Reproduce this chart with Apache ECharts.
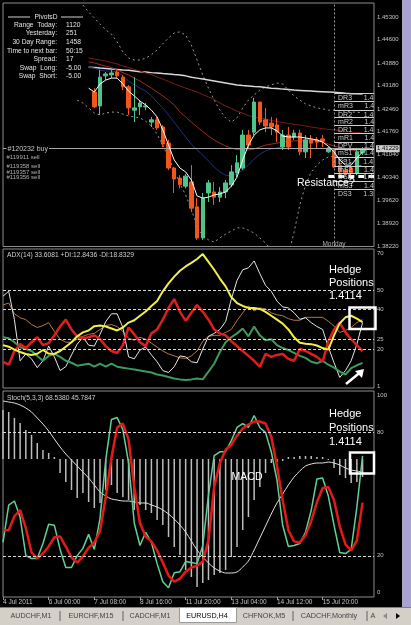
<!DOCTYPE html>
<html><head><meta charset="utf-8">
<script src="https://cdn.jsdelivr.net/npm/echarts/dist/echarts.min.js"></script>
<style>html,body{margin:0;padding:0;background:#000;width:411px;height:625px;overflow:hidden}#c{width:411px;height:625px}</style>
</head><body><div id="c"></div><script>
// ---------- axes / ticks ----------
const N = 66;
const timeTickLabels = ['4 Jul 2011','6 Jul 00:00','7 Jul 08:00','8 Jul 16:00','11 Jul 20:00','13 Jul 04:00','14 Jul 12:00','15 Jul 20:00'];
const timeTickEvery = 8;
const priceTickLabels = ['1.38220','1.38920','1.39620','1.40340','1.41040','1.41760','1.42460','1.43180','1.43880','1.44600','1.45300'];
const priceBase = 1.3822, priceStep = 0.00708;
const adxTickLabels = [70, 50, 40, 25, 20, 1];
const adxLevels = [50, 40, 25, 20];
const stochTickLabels = [100, 80, 20, 0];
const stochLevels = [80, 20];

// ---------- price panel (EURUSD H4) ----------
const candleStart = 16; // [open, close, low, high]
const candleOHLC = [
[1.4298,1.4252,1.4249,1.4310],[1.4255,1.4344,1.4227,1.4366],[1.4348,1.4354,1.4335,1.4360],[1.4351,1.4357,1.4341,1.4366],
[1.4360,1.4348,1.4341,1.4366],[1.4344,1.4314,1.4304,1.4351],[1.4314,1.4249,1.4227,1.4320],[1.4242,1.4249,1.4205,1.4344],
[1.4252,1.4264,1.4227,1.4273],[1.4252,1.4255,1.4242,1.4264],[1.4205,1.4212,1.4190,1.4221],[1.4212,1.4187,1.4181,1.4221],
[1.4190,1.4137,1.4128,1.4196],[1.4140,1.4063,1.4057,1.4150],[1.4063,1.4029,1.3986,1.4066],[1.4032,1.4011,1.4000,1.4041],
[1.4007,1.4038,1.4000,1.4045],[1.4020,1.3939,1.3927,1.4072],[1.3943,1.3847,1.3841,1.3970],[1.3847,1.3970,1.3841,1.3986],
[1.3986,1.4017,1.3958,1.4026],[1.3989,1.3973,1.3949,1.4020],[1.3973,1.3989,1.3958,1.4004],[1.3989,1.4017,1.3970,1.4026],
[1.4011,1.4051,1.4004,1.4072],[1.4048,1.4079,1.4035,1.4103],[1.4063,1.4165,1.4057,1.4181],[1.4165,1.4134,1.4125,1.4181],
[1.4174,1.4267,1.4165,1.4280],[1.4267,1.4205,1.4196,1.4267],[1.4212,1.4193,1.4174,1.4249],[1.4202,1.4190,1.4165,1.4221],
[1.4196,1.4174,1.4143,1.4218],[1.4128,1.4165,1.4119,1.4181],[1.4165,1.4128,1.4119,1.4190],[1.4159,1.4171,1.4150,1.4181],
[1.4171,1.4113,1.4103,1.4181],[1.4113,1.4150,1.4094,1.4165],[1.4150,1.4140,1.4094,1.4165],[1.4150,1.4143,1.4125,1.4159],
[1.4153,1.4146,1.4128,1.4165],[1.4113,1.4125,1.4110,1.4128],[1.4119,1.4066,1.4063,1.4125],[1.4072,1.4051,1.4041,1.4094],
[1.4057,1.4048,1.4038,1.4063],[1.4063,1.4048,1.4041,1.4066],[1.4048,1.4113,1.4041,1.4125],[1.4110,1.4123,1.4103,1.4128]
];
const maStart = 15;
const fastMA = [1.4310,1.4298,1.4323,1.4335,1.4341,1.4341,1.4323,1.4301,1.4286,1.4270,1.4258,1.4242,1.4221,1.4181,1.4134,1.4088,1.4063,1.4051,1.4026,1.3977,1.3970,1.3973,1.3980,1.3983,1.3989,1.4007,1.4035,1.4088,1.4134,1.4165,1.4181,1.4187,1.4187,1.4178,1.4162,1.4159,1.4159,1.4159,1.4156,1.4153,1.4150,1.4143,1.4131,1.4113,1.4088,1.4072,1.4072,1.4094,1.4113];
const navyMA = [1.4375,1.4372,1.4366,1.4363,1.4363,1.4360,1.4348,1.4332,1.4320,1.4310,1.4301,1.4286,1.4267,1.4249,1.4227,1.4205,1.4181,1.4159,1.4137,1.4119,1.4103,1.4085,1.4066,1.4051,1.4041,1.4038,1.4045,1.4057,1.4072,1.4091,1.4106,1.4116,1.4122,1.4125,1.4128,1.4131];
const slowMA1 = [1.4403,1.4400,1.4397,1.4394,1.4389,1.4385,1.4378,1.4374,1.4368,1.4363,1.4357,1.4352,1.4344,1.4338,1.4331,1.4323,1.4317,1.4310,1.4304,1.4298,1.4290,1.4283,1.4275,1.4264,1.4255,1.4247,1.4239,1.4233,1.4225,1.4221,1.4218,1.4215,1.4210,1.4207,1.4204,1.4201,1.4198,1.4196,1.4193,1.4190,1.4187,1.4185,1.4182,1.4181,1.4179,1.4176,1.4174,1.4173,1.4171];
const slowMA2 = [1.4391,1.4388,1.4383,1.4378,1.4374,1.4366,1.4358,1.4351,1.4341,1.4332,1.4321,1.4310,1.4298,1.4286,1.4273,1.4258,1.4236,1.4221,1.4205,1.4190,1.4176,1.4162,1.4150,1.4140,1.4131,1.4125,1.4120,1.4119,1.4119,1.4122,1.4128,1.4134,1.4137,1.4140,1.4143,1.4145,1.4147,1.4148,1.4150,1.4150,1.4147,1.4143,1.4137,1.4131,1.4127,1.4122,1.4119,1.4116,1.4113];
const longMA = [1.4375,1.4374,1.4372,1.4371,1.4369,1.4368,1.4366,1.4365,1.4363,1.4361,1.4360,1.4358,1.4357,1.4355,1.4354,1.4352,1.4351,1.4348,1.4344,1.4341,1.4338,1.4335,1.4332,1.4329,1.4326,1.4323,1.4320,1.4318,1.4317,1.4315,1.4314,1.4312,1.4310,1.4309,1.4307,1.4306,1.4304,1.4303,1.4302,1.4301,1.4300,1.4299,1.4298,1.4297,1.4296,1.4294,1.4293,1.4293,1.4292];
const bandUpperStart = 14;
const bandUpper = [1.4567,1.4545,1.4527,1.4508,1.4490,1.4477,1.4453,1.4422,1.4403,1.4397,1.4397,1.4403,1.4413,1.4428,1.4447,1.4465,1.4481,1.4484,1.4474,1.4443,1.4397,1.4351,1.4310,1.4273,1.4242,1.4218,1.4205,1.4218,1.4249,1.4273,1.4289,1.4304,1.4314,1.4320,1.4326,1.4323,1.4304,1.4286,1.4273,1.4261,1.4255,1.4249,1.4246,1.4242,1.4242,1.4239,1.4239,1.4236,1.4236,1.4233];
const bandLowerStart = 13;
const bandLower = [1.4273,1.4264,1.4249,1.4233,1.4227,1.4233,1.4236,1.4236,1.4230,1.4224,1.4221,1.4218,1.4208,1.4193,1.4168,1.4134,1.4094,1.4057,1.4014,1.3980,1.3934,1.3884,1.3853,1.3841,1.3834,1.3847,1.3859,1.3868,1.3878,1.3878,1.3871,1.3862,1.3847,1.3831,1.3810,1.3785,1.3773,1.3794,1.3865,1.3949,1.4011,1.4051,1.4072,1.4088,1.4097,1.4100,1.4097,1.4088,1.4079,1.4072,1.4069];
const pivotStart = 58;
const pivotNames = ['DR3','mR3','DR2','mR2','DR1','mR1','DPV','mS1','DS1','mS2','DS2','mS3','DS3'];
const pivotLevels = [1.4293,1.4270,1.4242,1.4219,1.4194,1.4171,1.4144,1.4122,1.4095,1.4070,1.4048,1.4021,1.3997];
const bidPrice = 1.41229;
const buyOrder = {label:'#120232 buy', price:1.41229};
const sellOrders = [{label:'#119911 sell', price:1.4097},{label:'#119358 sell', price:1.4069},{label:'#119357 sell', price:1.4051},{label:'#119356 sell', price:1.4035}];
const resistanceLevel = 1.4039;
const mondayIndex = 58;

// ---------- ADX panel ----------
const adxMain = [21.9,21.1,19.6,18.4,17.4,16.9,17.5,19.4,17.6,17.4,18.9,21.1,23.4,26.4,28.4,29.4,31.6,31.9,31.4,30.4,29.4,30.9,33.4,34.6,36.9,39.1,41.9,44.4,49.4,53.4,56.9,59.9,62.1,63.9,65.9,68.4,64.4,60.4,55.9,51.9,46.4,43.4,41.9,40.9,40.9,40.4,38.9,36.9,34.9,32.9,29.9,25.9,23.1,22.6,22.4,21.7,20.4,19.6,26.9,33.1,36.1,36.9,35.4,33.6];
const minusDI = [13.4,11.9,18.9,22.4,20.4,23.4,25.9,21.9,22.9,26.9,31.4,34.9,29.9,26.4,25.4,25.9,26.9,24.9,21.4,18.9,17.9,21.9,30.9,27.4,23.4,21.4,27.9,29.9,34.9,40.9,45.4,38.9,34.4,38.4,42.4,38.9,34.9,29.9,27.9,26.9,23.9,21.4,18.9,16.4,13.9,10.9,17.4,15.9,16.9,17.4,14.9,13.9,19.9,18.9,17.4,15.9,13.4,23.9,29.9,33.4,28.4,24.9,21.9,18.8];
const plusDI = [25.9,25.4,23.4,20.9,19.9,18.9,16.4,13.9,16.4,17.4,15.9,13.9,12.9,11.4,11.9,12.4,10.9,12.4,10.9,12.4,10.9,10.4,9.9,9.4,8.9,8.4,7.9,6.9,6.4,5.6,4.9,4.4,4.1,4.4,4.9,4.4,8.4,12.4,18.4,23.4,25.9,27.9,30.4,26.4,31.4,26.9,24.4,24.9,21.9,20.4,19.4,17.9,16.4,15.4,13.4,12.6,13.9,11.9,10.4,8.4,6.9,10.1,11.6,12.8];
const adxWhite = [46.9,49.4,34.9,13.9,17.4,14.9,10.4,13.9,21.4,15.9,8.9,10.9,16.9,22.4,25.9,21.9,21.4,27.4,33.9,37.9,37.9,30.9,15.9,14.9,19.4,20.9,16.9,13.4,8.9,7.9,10.9,16.4,15.9,13.4,12.9,19.9,26.4,27.9,29.9,33.9,45.4,54.9,60.4,61.4,64.9,58.4,52.4,49.4,44.4,41.4,40.9,38.4,35.1,35.9,33.4,31.4,29.9,20.9,12.9,5.4,8.9,13.9,22.4,33.4];
const adxBrown = [42.4,43.4,37.9,35.9,34.9,32.4,30.9,31.9,33.4,28.9,24.9,23.4,23.4,24.9,26.4,27.4,27.9,29.9,31.9,32.4,31.4,28.9,25.4,24.4,25.9,24.9,22.9,20.9,18.9,17.4,16.4,15.4,15.1,16.4,18.9,23.9,26.4,26.9,26.9,28.4,29.9,34.4,38.4,41.9,39.4,40.9,40.4,38.4,37.4,36.9,35.4,34.6,34.6,36.1,36.1,36.1,36.1,34.1,31.6,28.4,29.4,30.9,33.4,34.9];

// ---------- Stoch / MACD panel ----------
const stochMain = [26.5,44.6,46.6,38.7,20.1,18.7,18.7,26.0,35.3,34.8,23.1,14.3,14.3,20.1,23.6,30.4,23.1,38.2,66.6,86.2,87.1,81.3,65.1,35.8,25.0,31.4,26.5,16.2,7.4,4.5,11.8,12.3,17.2,16.7,16.2,25.0,49.5,68.6,70.5,70.5,75.9,82.3,84.2,82.3,88.1,82.3,79.8,70.5,56.8,34.8,24.5,25.0,26.0,31.4,42.1,57.3,57.8,49.0,34.8,21.6,21.1,23.1,43.6,68.5];
const stochSignal = [32.4,32.4,39.2,42.2,33.4,21.6,18.7,21.1,24.5,29.0,29.4,24.5,19.2,16.7,19.7,24.0,26.5,31.9,48.5,67.6,82.3,84.2,76.4,53.4,35.8,29.4,27.0,22.6,16.7,10.4,7.4,8.9,12.3,14.3,15.2,17.2,27.5,53.4,65.1,71.5,73.9,78.3,81.8,83.7,85.2,85.2,84.2,77.8,63.7,47.0,32.4,27.0,26.5,29.9,36.8,46.0,52.9,53.4,47.0,34.3,25.5,22.6,27.5,45.8];
const macdHist = [0.0049,0.0047,0.0041,0.0036,0.0029,0.0024,0.0016,0.0009,0.0006,0.0002,-0.0014,-0.0023,-0.0031,-0.0039,-0.0034,-0.0043,-0.0049,-0.0044,-0.0031,-0.0026,-0.0034,-0.0038,-0.0041,-0.0051,-0.0046,-0.0051,-0.0054,-0.0061,-0.0066,-0.0078,-0.0088,-0.0096,-0.0111,-0.0118,-0.0128,-0.0124,-0.0121,-0.0116,-0.0114,-0.0111,-0.0098,-0.0088,-0.0071,-0.0058,-0.0041,-0.0028,-0.0014,-0.0004,-0.0003,-0.0002,0.0002,0.0002,0.0003,0.0003,0.0003,0.0002,0.0002,-0.0001,-0.0009,-0.0016,-0.0019,-0.0024,-0.0023,-0.0018];
const macdSignal = [0.0058,0.0057,0.0056,0.0054,0.0051,0.0047,0.0041,0.0035,0.0028,0.0020,0.0012,0.0005,-0.0001,-0.0007,-0.0013,-0.0019,-0.0026,-0.0033,-0.0037,-0.0040,-0.0041,-0.0042,-0.0042,-0.0043,-0.0044,-0.0044,-0.0046,-0.0048,-0.0051,-0.0055,-0.0060,-0.0066,-0.0073,-0.0082,-0.0091,-0.0098,-0.0104,-0.0109,-0.0112,-0.0114,-0.0114,-0.0113,-0.0108,-0.0102,-0.0091,-0.0079,-0.0067,-0.0055,-0.0044,-0.0035,-0.0026,-0.0018,-0.0012,-0.0007,-0.0005,-0.0004,-0.0004,-0.0003,-0.0004,-0.0006,-0.0009,-0.0011,-0.0012,-0.0013];

// ---------- texts ----------
const infoTitle = 'PivotsD';
const infoLabels = ['Range  Today:','Yesterday:','30 Day Range:','Time to next bar:','Spread:','Swap  Long:','Swap  Short:'];
const infoValues = ['1120','251','1458','50:15','17','-5.00','-5.00'];
const adxTitle = 'ADX(14) 33.6081 +DI:12.8436 -DI:18.8329';
const stochTitle = 'Stoch(5,3,3) 68.5380 45.7847';
const hedgeText = 'Hedge\nPositions\n1.4114';
const tabNames = ['AUDCHF,M1','EURCHF,M15','CADCHF,M1','EURUSD,H4','CHFNOK,M5','CADCHF,Monthly','A'];
const activeTab = 3;

// ---------- helpers ----------
const cats = Array.from({length:N}, (_, i) => String(i));
const pad = (start, arr) => { const o = new Array(N).fill('-'); arr.forEach((v, k) => { o[start + k] = v; }); return o; };
const U = p => (p - priceBase) / priceStep;
const padP = (start, arr) => pad(start, arr.map(U));
const FONT = 'Liberation Sans';
const GREY = '#c4c4c4';

const xAx = (gi, showLab) => ({
  type:'category', gridIndex:gi, data:cats, boundaryGap:false,
  axisLine:{show:false}, splitLine:{show:false},
  axisTick: showLab ? {show:true, length:3, lineStyle:{color:'#9a9a9a'}, interval:(i)=> i % timeTickEvery === 0 && i/timeTickEvery < timeTickLabels.length} : {show:false},
  axisLabel: showLab ? {show:true, color:GREY, fontSize:6.5, fontFamily:FONT, margin:2, align:'left',
     interval:(i)=> i % timeTickEvery === 0 && i/timeTickEvery < timeTickLabels.length,
     formatter:(v, i)=> timeTickLabels[i/timeTickEvery] || ''} : {show:false}
});

const lineS = (name, xi, yi, data, color, width, extra) => Object.assign({
  name, type:'line', xAxisIndex:xi, yAxisIndex:yi, data, symbol:'none', silent:true,
  lineStyle:{color, width}, connectNulls:false
}, extra || {});

const pivotLines = pivotNames.map((n, k) => [
  {coord:[pivotStart - 0.1, U(pivotLevels[k])], label:{show:true, position:'insideStartBottom', distance:1,
     formatter: n + '      ' + pivotLevels[k].toFixed(4).slice(0,3), color:'#c8c8c8', fontSize:7, fontFamily:FONT, padding:[0,0,0,3]}},
  {coord:[N - 1, U(pivotLevels[k])]}
]);

const priceTickUnits = priceTickLabels.map(s => U(Number(s)));

const option = {
  backgroundColor:'#000',
  animation:false,
  grid:[
    {left:3, top:3, width:371, height:243.5, show:true, borderColor:'#8c8c8c', borderWidth:1},
    {left:3, top:249, width:371, height:139, show:true, borderColor:'#8c8c8c', borderWidth:1},
    {left:3, top:391, width:371, height:206, show:true, borderColor:'#8c8c8c', borderWidth:1}
  ],
  xAxis:[xAx(0,false), xAx(1,false), xAx(2,true)],
  yAxis:[
    {type:'value', gridIndex:0, position:'right', min:-0.022, max:10.611, splitLine:{show:false}, axisLine:{show:false}, axisTick:{show:false},
     axisLabel:{color:GREY, fontSize:6, fontFamily:FONT, margin:3, customValues: priceTickUnits,
       formatter:(v)=> { const k = Math.round(v); return Math.abs(v - k) < 0.05 ? (priceTickLabels[k] || '') : ''; }}},
    {type:'value', gridIndex:1, position:'right', min:0, max:71, interval:1, splitLine:{show:false}, axisLine:{show:false}, axisTick:{show:false},
     axisLabel:{color:GREY, fontSize:6, fontFamily:FONT, margin:3,
       rich:{t:{fontSize:6, fontFamily:FONT, color:GREY, padding:[5,0,0,0]}},
       formatter:(v)=> v === adxTickLabels[0] ? '{t|' + v + '}' : (adxTickLabels.indexOf(v) >= 0 ? String(v) : '')}},
    {type:'value', gridIndex:2, position:'right', min:0, max:100, interval:10, splitLine:{show:false}, axisLine:{show:false}, axisTick:{show:false},
     axisLabel:{color:GREY, fontSize:6, fontFamily:FONT, margin:3,
       rich:{t:{fontSize:6, fontFamily:FONT, color:GREY, padding:[9,0,0,0]}, b:{fontSize:6, fontFamily:FONT, color:GREY, padding:[0,0,10,0]}},
       formatter:(v)=> v === 100 ? '{t|100}' : v === 0 ? '{b|0}' : (stochTickLabels.indexOf(v) >= 0 ? String(v) : '')}},
    {type:'value', gridIndex:2, min:-0.0138, max:0.0068, show:false, splitLine:{show:false}}
  ],
  series:[
    lineS('bbUp',0,0,padP(bandUpperStart,bandUpper),'#9a9a9a',1,{lineStyle:{color:'#9a9a9a',width:1,type:[2,3]}}),
    lineS('bbLo',0,0,padP(bandLowerStart,bandLower),'#9a9a9a',1,{lineStyle:{color:'#9a9a9a',width:1,type:[2,3]}}),
    lineS('longMA',0,0,padP(maStart,longMA),'#d8d8d8',1.5,{z:3, markLine:{silent:true, symbol:['none','none'], animation:false,
      data:[
        ...pivotLines.map(p => { p[0].lineStyle = {color:'#d0d0d0', width:1, type:'solid'}; return p; }),
        {xAxis:mondayIndex, lineStyle:{color:'#a0a0a0', width:1, type:[2,2]}, label:{show:false}},
        [{coord:[mondayIndex - 1, U(resistanceLevel)], lineStyle:{color:'#ffffff', width:3, type:[6,4]}, label:{show:false}}, {coord:[N - 1, U(resistanceLevel)]}],
        {yAxis:U(buyOrder.price), lineStyle:{color:'#a8a8a8', width:1, type:'solid'},
          label:{show:true, position:'end', distance:2, formatter: bidPrice.toFixed(5), color:'#000', backgroundColor:'#cfcfcf', fontSize:6, fontFamily:FONT, padding:[1,1,0,1]}}
      ]}}),
    lineS('slowMA1',0,0,padP(maStart,slowMA1),'#7a1c1c',1),
    lineS('slowMA2',0,0,padP(maStart,slowMA2),'#a02a2a',1),
    lineS('navyMA',0,0,padP(maStart,navyMA),'#22307e',1),
    {name:'EURUSD', type:'candlestick', xAxisIndex:0, yAxisIndex:0, barWidth:4, z:4, silent:true,
     data: pad(candleStart, candleOHLC.map(c => c.map(U))),
     itemStyle:{color:'#4fc48b', color0:'#f2561d', borderColor:'#4fc48b', borderColor0:'#f2561d', borderWidth:1},
     markPoint:{silent:true, symbol:'rect', symbolSize:[1,1], itemStyle:{color:'rgba(0,0,0,0)'}, animation:false,
       data:[
        {coord:[0, U(buyOrder.price)], label:{show:true, position:'right', distance:3, formatter:buyOrder.label, color:'#c8c8c8', backgroundColor:'#000', fontSize:7, fontFamily:FONT, padding:[0,1]}},
        ...sellOrders.map(o => ({coord:[0, U(o.price)], label:{show:true, position:'right', distance:3, formatter:o.label, color:'#b0b0b0', fontSize:6, fontFamily:FONT}}))
       ]}},
    lineS('fastMA',0,0,padP(maStart,fastMA),'#ffffff',1,{z:5}),
    lineS('brown',1,1,pad(0,adxBrown),'#b07a45',1),
    lineS('white',1,1,pad(0,adxWhite),'#e6e6e6',1),
    lineS('+DI',1,1,pad(0,plusDI),'#3d9a5f',2,{markLine:{silent:true, symbol:['none','none'], animation:false, label:{show:false},
        lineStyle:{color:'#d8d8d8', width:1, type:[3,2]}, data: adxLevels.map(v => ({yAxis:v}))}}),
    lineS('-DI',1,1,pad(0,minusDI),'#e01e1e',2.5),
    lineS('ADX',1,1,pad(0,adxMain),'#f2f046',2),
    {name:'macd', type:'bar', xAxisIndex:2, yAxisIndex:3, data:pad(0,macdHist), barWidth:1.5, silent:true, itemStyle:{color:'#bdbdbd'}, z:1},
    lineS('signal',2,3,pad(0,macdSignal),'#e0e0e0',1,{smooth:0.3, z:2}),
    lineS('stochMain',2,2,pad(0,stochMain),'#62d197',1.5,{z:3, markLine:{silent:true, symbol:['none','none'], animation:false, label:{show:false},
        lineStyle:{color:'#d8d8d8', width:1, type:[3,2]}, data: stochLevels.map(v => ({yAxis:v}))}}),
    lineS('stochSignal',2,2,pad(0,stochSignal),'#e41a1a',2.5,{z:4})
  ],
  graphic:[]
};

const G = option.graphic;
const txt = (x, y, text, o) => Object.assign({type:'text', x, y, silent:true, z:100,
  style:Object.assign({text, fill:'#e4e4e4', fontSize:6.7, fontFamily:FONT, align:'left', textAlign:'left', verticalAlign:'middle', textVerticalAlign:'middle'}, o || {})});
G.push({type:'line', silent:true, shape:{x1:8, y1:17, x2:30, y2:17}, style:{stroke:'#d0d0d0', lineWidth:1}});
G.push({type:'line', silent:true, shape:{x1:61, y1:17, x2:83, y2:17}, style:{stroke:'#d0d0d0', lineWidth:1}});
G.push(txt(46, 16.7, infoTitle, {align:'center', textAlign:'center'}));
infoLabels.forEach((l, k) => {
  G.push(txt(57, 25 + k * 8.55, l, {align:'right', textAlign:'right'}));
  G.push(txt(66, 25 + k * 8.55, infoValues[k]));
});
G.push(txt(7, 255.5, adxTitle, {fontSize:6.7, fill:'#d0d0d0'}));
G.push(txt(7, 398, stochTitle, {fontSize:6.7, fill:'#d0d0d0'}));
G.push(txt(297, 183.5, 'Resistance?', {fontSize:10.5, fill:'#ffffff'}));
G.push(txt(334, 244, 'Monday', {fontSize:6.5, fill:'#b0b0b0', align:'center', textAlign:'center'}));
G.push(txt(329, 283, hedgeText, {fontSize:11, fill:'#ffffff', lineHeight:13.4}));
G.push(txt(329, 428, hedgeText, {fontSize:11, fill:'#ffffff', lineHeight:13.6}));
G.push(txt(247, 477, 'MACD', {fontSize:10.5, fill:'#ffffff', align:'center', textAlign:'center'}));
G.push({type:'rect', silent:true, z:100, shape:{x:349.5, y:307.5, width:26, height:21.5}, style:{fill:'none', stroke:'#ffffff', lineWidth:2.5}});
G.push({type:'rect', silent:true, z:100, shape:{x:350, y:452.5, width:24, height:21}, style:{fill:'none', stroke:'#ffffff', lineWidth:2.5}});
G.push({type:'line', silent:true, z:100, shape:{x1:346, y1:384, x2:360, y2:372.5}, style:{stroke:'#ffffff', lineWidth:2.5}});
G.push({type:'polygon', silent:true, z:100, shape:{points:[[364,369],[355,371],[362,378]]}, style:{fill:'#ffffff'}});
G.push({type:'rect', silent:true, z:90, shape:{x:402, y:0, width:9, height:608}, style:{fill:'#a9a4cf'}});
G.push({type:'rect', silent:true, z:90, shape:{x:0, y:607, width:411, height:18}, style:{fill:'#d4d0c8'}});
G.push({type:'line', silent:true, z:91, shape:{x1:0, y1:607.5, x2:411, y2:607.5}, style:{stroke:'#808080', lineWidth:1}});
const tabX = [31, 91, 150, 207, 264, 329, 373];
const sepX = [60, 123, 293, 367];
G.push({type:'rect', silent:true, z:91, shape:{x:179.5, y:607.5, width:57, height:15}, style:{fill:'#ffffff', stroke:'#9a9a9a', lineWidth:1}});
sepX.forEach(x => G.push({type:'line', silent:true, z:92, shape:{x1:x, y1:611, x2:x, y2:621}, style:{stroke:'#606060', lineWidth:1}}));
tabNames.forEach((t, k) => G.push(txt(tabX[k], 616, t, {fontSize:7.2, fill: k === activeTab ? '#000' : '#444', align:'center', textAlign:'center'})));
G.push({type:'polygon', silent:true, z:92, shape:{points:[[383,616],[387,613],[387,619]]}, style:{fill:'#8a8a8a'}});
G.push({type:'polygon', silent:true, z:92, shape:{points:[[400,616],[396,613],[396,619]]}, style:{fill:'#000'}});

const chart = echarts.init(document.getElementById('c'), null, {renderer:'canvas'});
chart.setOption(option);
</script></body></html>
